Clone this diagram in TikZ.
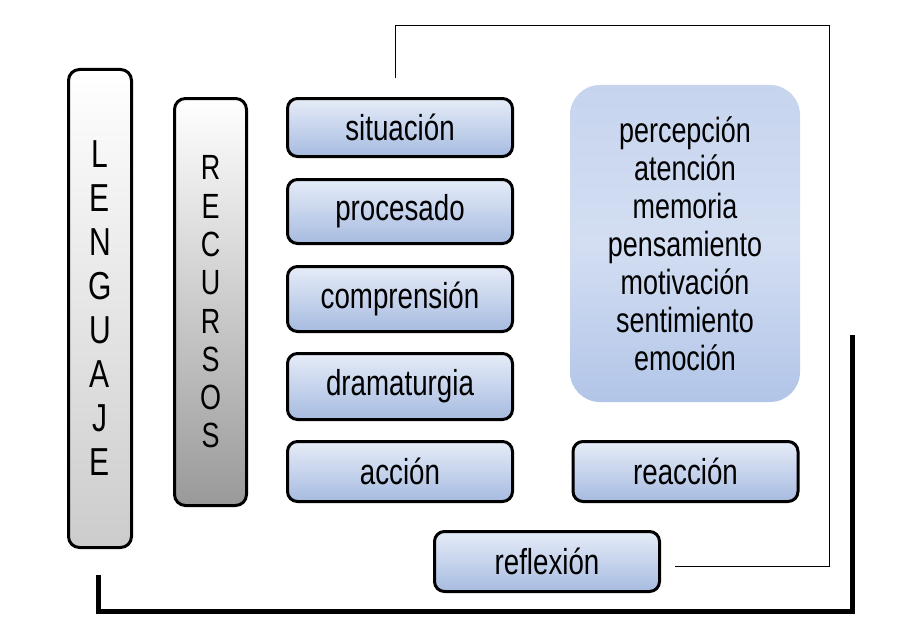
\documentclass[tikz,border=0pt]{standalone}
\usepackage{fontspec}
\setmainfont[FakeStretch=0.77]{Liberation Sans}
\definecolor{pasoarriba}{HTML}{E6ECF8}
\definecolor{pasoabajo}{HTML}{A6BBE0}
\definecolor{mentearriba}{HTML}{C6D4EE}
\definecolor{mentemedio}{HTML}{D3DEF2}
\definecolor{menteabajo}{HTML}{B2C5E8}
\begin{document}
\begin{tikzpicture}[x=1pt,y=-1pt]
  \tikzstyle{paso} = [draw, line width=3pt, rounded corners=10pt, top color=pasoarriba, bottom color=pasoabajo, minimum width=225pt, font=\fontsize{36}{40}\selectfont]
  \tikzstyle{columna} = [draw, line width=3pt, rounded corners=11pt, align=center]
  \useasboundingbox (0,0) rectangle (905,634);
  %\draw (0,0) rectangle (905,634);
  \draw (100,308.5) node[columna, minimum width=63pt, minimum height=478pt, top color=white, bottom color=black!20, font=\fontsize{39}{44}\selectfont] (len) {L\\E\\N\\G\\U\\A\\J\\E};
  \draw (210.5,302) node[columna, minimum width=72pt, minimum height=407pt, top color=white, bottom color=black!40, font=\fontsize{35}{38.3}\selectfont] (rec) {R\\E\\C\\U\\R\\S\\O\\S};
  \draw (400,127.5) node[paso, minimum height=58pt] (sit) {situación};
  \draw (400,211.5) node[paso, minimum height=64pt] (pro) {procesado};
  \draw (400,299) node[paso, minimum height=65pt] (com) {comprensión};
  \draw (400,386.5) node[paso, minimum height=66pt] (dra) {dramaturgia};
  \draw (400,471.5) node[paso, minimum height=60pt] (acc) {acción};
  \draw (685.5,471.5) node[paso, minimum height=60pt] (rea) {reacción};
  \draw (547,561.5) node[paso, minimum height=60pt] (ref) {reflexión};
  \draw (685,243.5) node[rounded corners=30pt, minimum width=230pt, minimum height=317pt, top color=mentearriba, bottom color=menteabajo, middle color=mentemedio, align=center, font=\fontsize{35}{38}\selectfont] (mente) {percepción\\atención\\memoria\\pensamiento\\motivación\\sentimiento\\emoción};

  \coordinate (ini) at ([xshift=14pt, yshift=-4.5pt]ref.east);
  \coordinate (fin) at ([xshift=-5pt, yshift=19pt]sit.north);
  \draw [line width=0.8pt] (ini) -| (829,25) -| (fin);
  \coordinate (cierre) at (852,335);
  \draw [line width=5pt] ([xshift=-2pt, yshift=-26pt]len.south) |- (852,611) -- (cierre);
\end{tikzpicture}
\end{document}
